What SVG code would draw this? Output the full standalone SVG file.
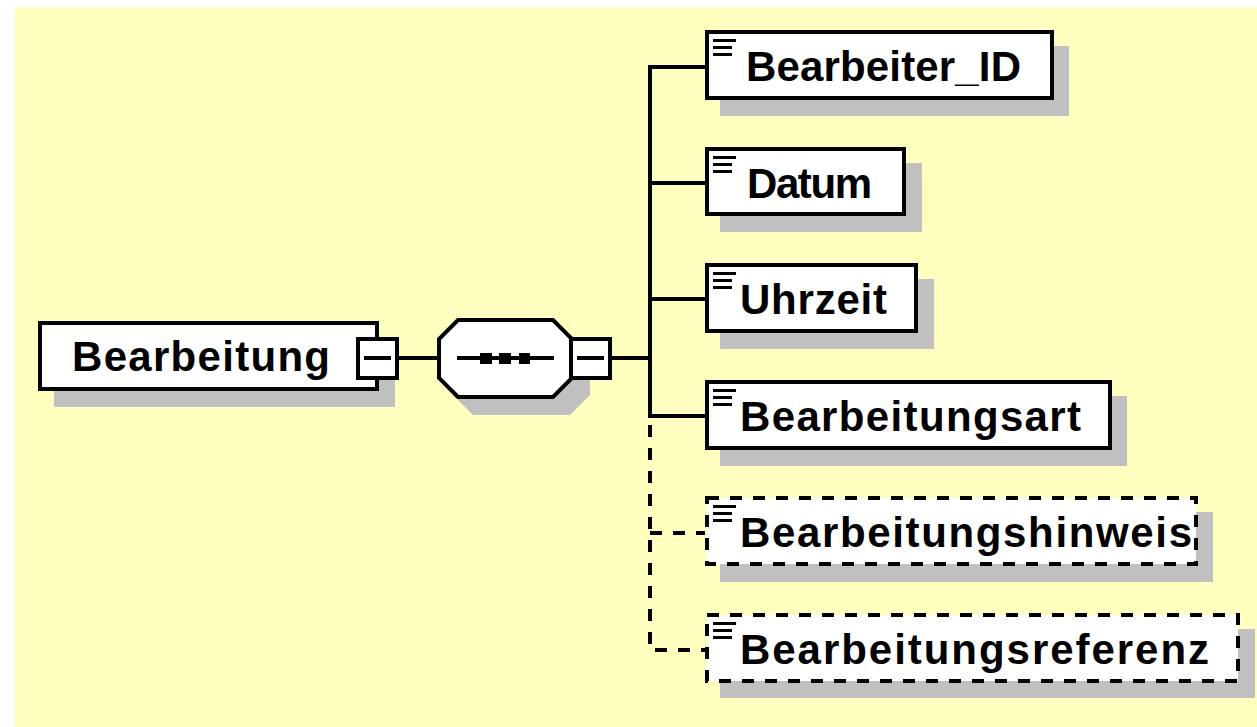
<svg xmlns="http://www.w3.org/2000/svg" width="1257" height="727" viewBox="0 0 1257 727">
<style>
.bg{fill:#FFFFC0}
.sh{fill:#C0C0C0}
.box{fill:#FFFFFF;stroke:#000000;stroke-width:4}
.opt{fill:#FFFFFF;stroke:#000000;stroke-width:4;stroke-dasharray:12 11}
.ln{fill:none;stroke:#000000;stroke-width:4}
.dl{fill:none;stroke:#000000;stroke-width:4;stroke-dasharray:12 11}
.blk{fill:#000000}
.t{font-family:"Liberation Sans",Arial,sans-serif;font-weight:bold;font-size:42px;fill:#000000}
</style>
<defs>
<g id="icon">
<rect x="0" y="0" width="23" height="3" class="blk"/>
<rect x="0" y="7" width="19" height="3" class="blk"/>
<rect x="0" y="14" width="19" height="3" class="blk"/>
</g>
</defs>
<rect x="15" y="7" width="1242" height="720" class="bg"/>
<g id="connectors">
<line x1="399" y1="358" x2="439" y2="358" class="ln"/>
<line x1="612" y1="358" x2="650" y2="358" class="ln"/>
<path d="M705,67 H650 V416 H705" class="ln"/>
<line x1="650" y1="183" x2="705" y2="183" class="ln"/>
<line x1="650" y1="299" x2="705" y2="299" class="ln"/>
<path d="M650,425 V650 H705" class="dl"/>
<path d="M650,533 H705" class="dl"/>
</g>
<g id="node-Bearbeitung">
<rect x="54" y="337" width="341" height="70" class="sh"/>
<rect x="40" y="323" width="337" height="66" class="box"/>
<text x="72" y="371" class="t" textLength="258" lengthAdjust="spacing">Bearbeitung</text>
<rect x="358" y="339" width="39" height="39" class="box"/>
<rect x="364" y="356" width="27" height="4" class="blk"/>
</g>
<g id="node-sequence">
<polygon points="473,334 570,334 590,354 590,395 570,415 473,415 453,395 453,354" class="sh"/>
<polygon points="458,320 553,320 572,339 572,378 553,397 458,397 439,378 439,339" class="box"/>
<rect x="457" y="356" width="97" height="4" class="blk"/>
<rect x="480" y="353" width="12" height="11" class="blk"/>
<rect x="499" y="353" width="12" height="11" class="blk"/>
<rect x="519" y="353" width="11" height="11" class="blk"/>
<rect x="571" y="339" width="39" height="39" class="box"/>
<rect x="577" y="356" width="27" height="4" class="blk"/>
</g>
<g id="node-Bearbeiter_ID">
<rect x="720" y="46" width="349" height="70" class="sh"/>
<rect x="707" y="32" width="345" height="66" class="box"/>
<use href="#icon" x="713" y="39"/>
<text x="746" y="81" class="t" textLength="275" lengthAdjust="spacing">Bearbeiter_ID</text>
</g>
<g id="node-Datum">
<rect x="720" y="163" width="202" height="69" class="sh"/>
<rect x="707" y="149" width="197" height="65" class="box"/>
<use href="#icon" x="713" y="156"/>
<text x="747" y="198" class="t" textLength="125" lengthAdjust="spacing">Datum</text>
</g>
<g id="node-Uhrzeit">
<rect x="720" y="279" width="214" height="70" class="sh"/>
<rect x="707" y="265" width="209" height="66" class="box"/>
<use href="#icon" x="713" y="272"/>
<text x="740" y="314" class="t" textLength="147" lengthAdjust="spacing">Uhrzeit</text>
</g>
<g id="node-Bearbeitungsart">
<rect x="720" y="396" width="407" height="70" class="sh"/>
<rect x="707" y="382" width="403" height="66" class="box"/>
<use href="#icon" x="713" y="389"/>
<text x="740" y="431" class="t" textLength="341" lengthAdjust="spacing">Bearbeitungsart</text>
</g>
<g id="node-Bearbeitungshinweis">
<rect x="720" y="512" width="493" height="70" class="sh"/>
<rect x="707" y="498" width="489" height="66" class="opt"/>
<use href="#icon" x="713" y="505"/>
<text x="740" y="547" class="t" textLength="452" lengthAdjust="spacing">Bearbeitungshinweis</text>
</g>
<g id="node-Bearbeitungsreferenz">
<rect x="720" y="629" width="535" height="69" class="sh"/>
<rect x="707" y="615" width="531" height="66" class="opt"/>
<use href="#icon" x="713" y="622"/>
<text x="740" y="664" class="t" textLength="469" lengthAdjust="spacing">Bearbeitungsreferenz</text>
</g>
</svg>
